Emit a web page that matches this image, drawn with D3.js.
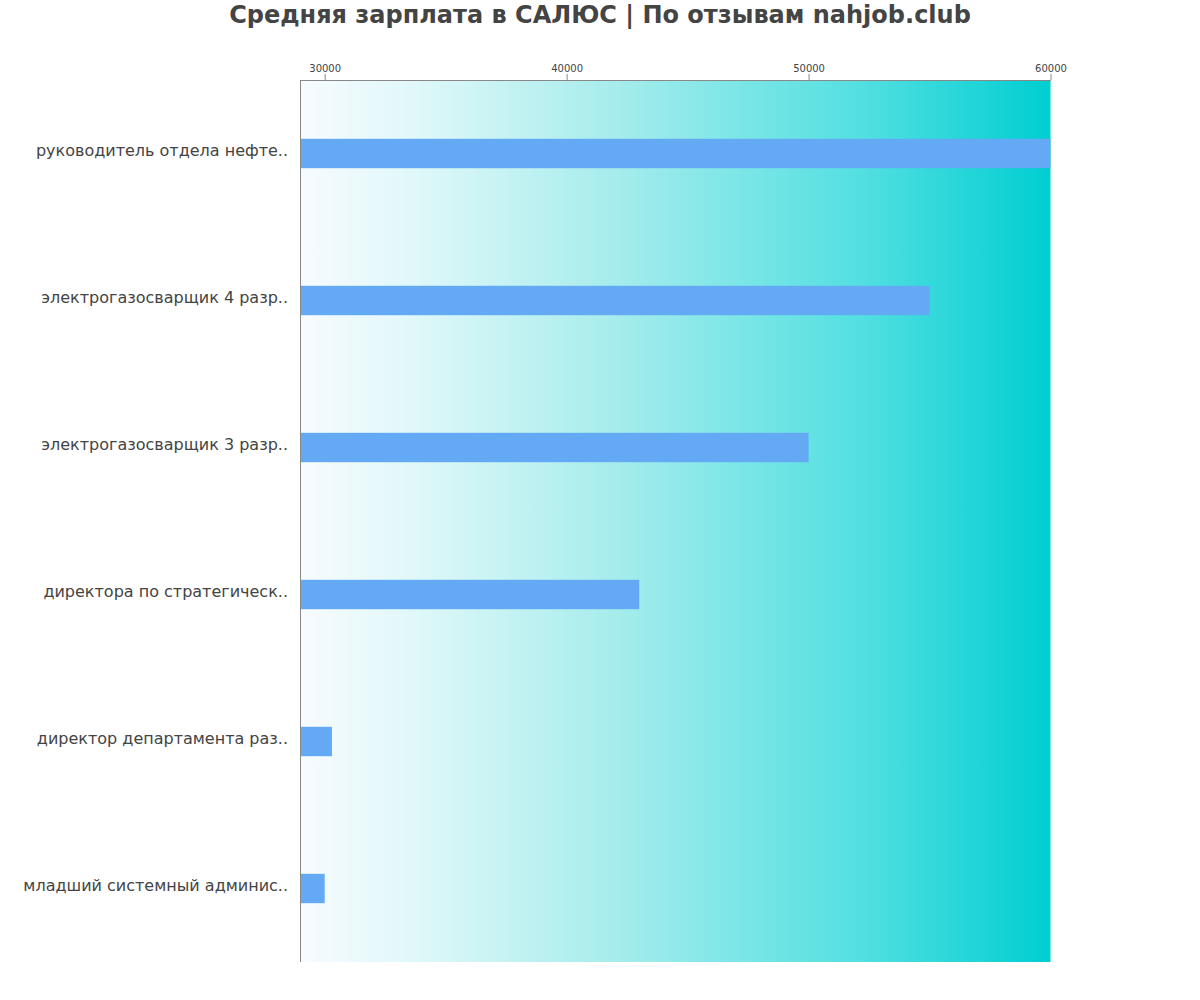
<!DOCTYPE html>
<html><head><meta charset="utf-8">
<script src="https://cdn.jsdelivr.net/npm/d3@7"></script>
<style>body{margin:0;background:#fff;font-family:"DejaVu Sans",sans-serif;}</style>
</head><body>
<svg id="chart" width="1200" height="1000"></svg>
<script>
const categories = [
  "руководитель отдела нефте..",
  "электрогазосварщик 4 разр..",
  "электрогазосварщик 3 разр..",
  "директора по стратегическ..",
  "директор департамента раз..",
  "младший системный админис.."
];
const salaries = [60000, 55000, 50000, 43000, 30300, 30000];
const tickValues = [30000, 40000, 50000, 60000];
const titleText = "Средняя зарплата в САЛЮС | По отзывам nahjob.club";

(function () {
const svg = d3.select("#chart");
const pLeft = 300.5, pRight = 1050.5, pTop = 80, pBottom = 962;

const x = d3.scaleLinear().domain([29000, 60000]).range([pLeft, pRight]);
const y = d3.scaleBand().domain(categories).range([pTop, pBottom]).paddingInner(0.8).paddingOuter(0.4);

const defs = svg.append("defs");
const grad = defs.append("linearGradient").attr("id", "bg").attr("x1", "0").attr("x2", "1").attr("y1", "0").attr("y2", "0");
[[0, "#f7fbff"], [0.15, "#e0f8f9"], [0.42, "#a6ecec"], [0.75, "#52dfe1"], [1, "#00ced1"]]
  .forEach(([o, c]) => grad.append("stop").attr("offset", o).attr("stop-color", c));

svg.append("rect").attr("x", pLeft).attr("y", pTop).attr("width", pRight - pLeft).attr("height", pBottom - pTop)
  .attr("fill", "url(#bg)");

svg.append("g").selectAll("rect").data(salaries).join("rect")
  .attr("x", x(29000))
  .attr("y", (d, i) => y(categories[i]))
  .attr("width", d => x(d) - x(29000))
  .attr("height", y.bandwidth())
  .attr("fill", "#63a9f4");

const xAxis = svg.append("g").attr("transform", `translate(0,${pTop})`)
  .call(d3.axisTop(x).tickValues(tickValues).tickFormat(d3.format("d")).tickSize(6).tickSizeOuter(0));
xAxis.select(".domain").attr("stroke", "#888");
xAxis.selectAll(".tick line").attr("stroke", "#888");
xAxis.selectAll(".tick text").attr("fill", "#444").style("font-size", "10px").style("font-family", "DejaVu Sans").attr("dy", "0.1em");

svg.append("line").attr("x1", pLeft).attr("x2", pLeft).attr("y1", pTop).attr("y2", pBottom)
  .attr("stroke", "#888").attr("stroke-width", 1);

svg.append("g").selectAll("text").data(categories).join("text")
  .attr("x", 288)
  .attr("y", d => y(d) + y.bandwidth() / 2)
  .attr("dy", "0.18em")
  .attr("text-anchor", "end")
  .attr("fill", "#444")
  .style("font-size", "16px")
  .text(d => d);

svg.append("text").attr("x", 600).attr("y", 23).attr("text-anchor", "middle")
  .attr("fill", "#444").style("font-size", "24px").style("font-weight", "bold").text(titleText);
})();
</script>
</body></html>
